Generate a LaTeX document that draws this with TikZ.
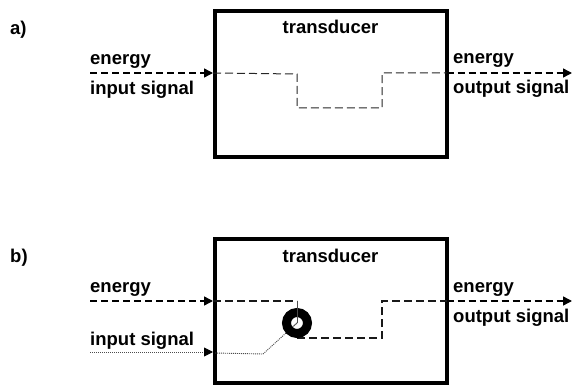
\documentclass[tikz,border=0pt]{standalone}
\usepackage{fontspec}
\setmainfont{Liberation Sans}
\usetikzlibrary{arrows.meta}
\begin{document}
\begin{tikzpicture}[x=1pt,y=-1pt,
  lbl/.style={font=\bfseries\fontsize{18.5}{22}\selectfont, inner sep=0pt, anchor=base west},
  ttl/.style={lbl, anchor=base},
  tbox/.style={draw, line width=4pt, inner sep=0pt, minimum width=231.5pt},
  outline/.style={line width=1.4pt, dash pattern=on 7pt off 4pt},
  inlinea/.style={line width=1pt, dash pattern=on 8pt off 4pt, black!85},
  inlineb/.style={line width=1.2pt, dash pattern=on 8pt off 4pt, black!90},
  dotline/.style={line width=0.9pt, dash pattern=on 1pt off 1pt, black!70},
  thinline/.style={line width=0.8pt, black!70},
  tip/.style={-{Triangle[length=9pt,width=9pt,black]}},
  ringst/.style={circle, draw, line width=9pt, minimum size=21pt, inner sep=0pt}
]
\useasboundingbox (0,0) rectangle (573,385);

% ---------- panel a ----------
\node[tbox, minimum height=146pt] (boxA) at (330.75,84) {};
\node[lbl] (la) at (10,35) {a)};
\node[ttl] (ta) at (330.5,34) {transducer};
\node[lbl] (ein) at (90,65) {energy};
\node[lbl] (sin) at (90,95) {input signal};
\node[lbl] (eout) at (453,64) {energy};
\node[lbl] (sout) at (453,94) {output signal};

\coordinate (a0) at (90,73);
\coordinate (a1) at (213,73);
\coordinate (a2) at (297,74);
\coordinate (a3) at (297,108);
\coordinate (a4) at (382,108);
\coordinate (a5) at (382,73);
\coordinate (a6) at (446.5,73);
\coordinate (a7) at (572,73);

\draw[outline, tip] (a0) -- (a1);
\draw[inlinea] (a1) -- (a2) -- (a3) -- (a4) -- (a5) -- (a6);
\draw[outline, tip] (a6) -- (a7);

% ---------- panel b ----------
\node[tbox, minimum height=144.5pt] (boxB) at (330.75,310.75) {};
\node[lbl] (lb) at (10,262) {b)};
\node[ttl] (tb) at (330.5,262) {transducer};
\node[lbl] (ein2) at (90,292) {energy};
\node[lbl] (sin2) at (90,345) {input signal};
\node[lbl] (eout2) at (453,292) {energy};
\node[lbl] (sout2) at (453,322) {output signal};

\coordinate (b0) at (90,301);
\coordinate (b1) at (213,301);
\coordinate (b2) at (297,301);
\coordinate (b3) at (297,338);
\coordinate (b4) at (382,338);
\coordinate (b5) at (382,301);
\coordinate (b6) at (446.5,301);
\coordinate (b7) at (572,301);
\coordinate (c0) at (90,352);
\coordinate (c1) at (213,352);
\coordinate (c2) at (215,353);
\coordinate (c3) at (263,354);
\coordinate (rc) at (297,323);

\draw[outline, tip] (b0) -- (b1);
\draw[inlineb] (b1) -- (b2);
\draw[inlineb] (b3) -- (b4) -- (b5) -- (b6);
\draw[outline, tip] (b6) -- (b7);
\draw[dotline, tip] (c0) -- (c1);
\draw[dotline] (c2) -- (c3) -- (rc);

\node[ringst] (ring) at (rc) {};
\draw[thinline] (b2) -- (ring.center);
\draw[dotline] (ring.center) -- ++(-3.5,3.2);
\end{tikzpicture}
\end{document}
